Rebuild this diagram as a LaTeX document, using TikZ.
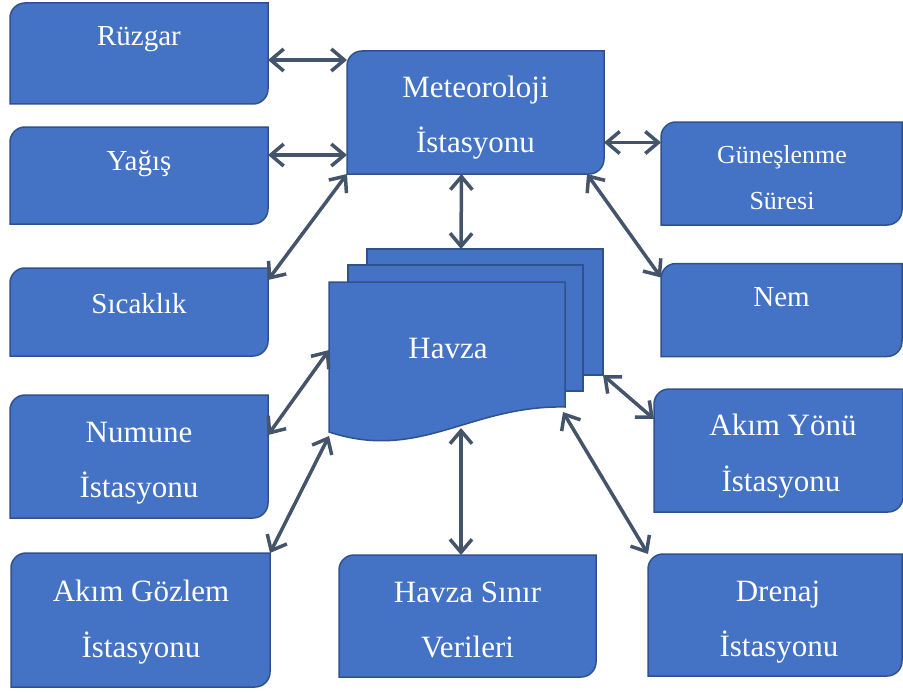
\documentclass[tikz,border=0pt]{standalone}
\usepackage{fontspec}
\setmainfont{Liberation Serif}
\usetikzlibrary{arrows.meta}
\definecolor{panelfill}{HTML}{4472C4}
\definecolor{paneledge}{HTML}{2F528F}
\definecolor{linkcol}{HTML}{44546A}
\tikzset{
  frame/.style={rectangle, inner sep=0pt, outer sep=0pt},
  panel/.style={fill=panelfill, draw=paneledge, line width=1.5pt},
  lbl/.style={text=white, font=\fontsize{31}{36}\selectfont, anchor=base, inner sep=0pt},
  lblmid/.style={lbl, font=\fontsize{29}{34}\selectfont},
  lblsmall/.style={lbl, font=\fontsize{26}{30}\selectfont},
  barb/.tip={Straight Barb[length=13pt,width=22pt]},
  link/.style={draw=linkcol, line width=3.5pt, line cap=round, barb-barb},
}
% box with rounded top-left and bottom-right corners, drawn on a frame node
\newcommand\panelshape[1]{%
  \path[panel] (#1.south west) -- ([yshift=-15pt]#1.north west)
    arc[start angle=180, end angle=90, radius=15pt] -- (#1.north east)
    -- ([yshift=15pt]#1.south east)
    arc[start angle=0, end angle=-90, radius=15pt] -- cycle;}
\begin{document}
\begin{tikzpicture}[x=1pt, y=-1pt]
\useasboundingbox (0,0) rectangle (903,693);

% frames of the boxes
\node[frame, minimum width=258pt, minimum height=101pt] (rz)  at (139,53.5)   {};
\node[frame, minimum width=258pt, minimum height=97pt]  (yg)  at (139,175.5)  {};
\node[frame, minimum width=258pt, minimum height=88pt]  (sc)  at (139,312)    {};
\node[frame, minimum width=258pt, minimum height=123pt] (nm)  at (139,456.5)  {};
\node[frame, minimum width=259pt, minimum height=134pt] (ag)  at (140.5,620)  {};
\node[frame, minimum width=257pt, minimum height=123pt] (met) at (475.5,112.5) {};
\node[frame, minimum width=241pt, minimum height=103pt] (gs)  at (781.5,173.5) {};
\node[frame, minimum width=241pt, minimum height=93pt]  (nem) at (781.5,310)  {};
\node[frame, minimum width=249pt, minimum height=123pt] (ay)  at (778.5,450.5) {};
\node[frame, minimum width=254pt, minimum height=122pt] (dr)  at (775,615)    {};
\node[frame, minimum width=257pt, minimum height=122pt] (hs)  at (467.5,616)  {};

% stacked sheets of the basin
\node[frame, minimum width=236pt, minimum height=126pt] (hb) at (485,312)   {};
\node[frame, minimum width=235pt, minimum height=126pt] (hm) at (465.5,328) {};
\node[frame, minimum width=236pt, minimum height=125pt] (hf) at (447,344.5) {};

\foreach \b in {rz,yg,sc,nm,ag,met,gs,nem,ay,dr,hs} {\panelshape{\b}}

\path[panel] (hb.south west) rectangle (hb.north east);
\path[panel] (hm.south west) rectangle (hm.north east);
\path[panel] (hf.north west) -- (hf.north east) -- (hf.south east)
  .. controls +(-95,-2) and +(91,30) .. ([yshift=-25pt]hf.south west) -- cycle;

% labels
\node[lblmid] (rz-t)  at (139,46)  {Rüzgar};
\node[lblmid] (yg-t)  at (139,170) {Yağış};
\node[lblmid] (sc-t)  at (139,313) {Sıcaklık};
\node[lbl] (nm-t1) at (139,442) {Numune};
\node[lbl] (nm-t2) at (139,497) {İstasyonu};
\node[lbl] (ag-t1) at (141,601) {Akım Gözlem};
\node[lbl] (ag-t2) at (141,657) {İstasyonu};
\node[lbl] (met-t1) at (475.5,97)  {Meteoroloji};
\node[lbl] (met-t2) at (475.5,152) {İstasyonu};
\node[lblsmall] (gs-t1) at (782,163) {Güneşlenme};
\node[lblsmall] (gs-t2) at (782,209) {Süresi};
\node[lblmid] (nem-t) at (781.5,306) {Nem};
\node[lbl] (ay-t1) at (783,435) {Akım Yönü};
\node[lbl] (ay-t2) at (781,491) {İstasyonu};
\node[lbl] (dr-t1) at (778,601) {Drenaj};
\node[lbl] (dr-t2) at (779,656) {İstasyonu};
\node[lbl] (hs-t1) at (467.5,602) {Havza Sınır};
\node[lbl] (hs-t2) at (467.5,657) {Verileri};
\node[lbl] (hf-t)  at (448,358) {Havza};

% two-way connectors
\draw[link] ([yshift=-6.5pt]rz.east) -- ([yshift=52.5pt]met.west);
\draw[link] ([yshift=20.5pt]yg.east) -- ([yshift=-42.5pt]met.west);
\draw[link] ([yshift=-12pt]sc.north east) -- (met.south west);
\draw[link] ([yshift=-30pt]met.east) -- ([yshift=31pt]gs.west);
\draw[link] ([xshift=-14pt]met.south) -- ([xshift=-24pt]hb.north);
\draw[link] ([xshift=-17pt]met.south east) -- ([yshift=-14pt]nem.north west);
\draw[link] ([yshift=21.5pt]nm.east) -- ([yshift=-5.5pt]hf.west);
\draw[link] (ag.north east) -- ([yshift=-29pt]hf.south west);
\draw[link] ([xshift=14pt,yshift=-21pt]hf.south) -- ([xshift=-6.5pt]hs.north);
\draw[link] (hb.south east) -- ([yshift=31.5pt]ay.west);
\draw[link] ([xshift=-2pt,yshift=-5pt]hf.south east) -- (dr.north west);
\end{tikzpicture}
\end{document}
